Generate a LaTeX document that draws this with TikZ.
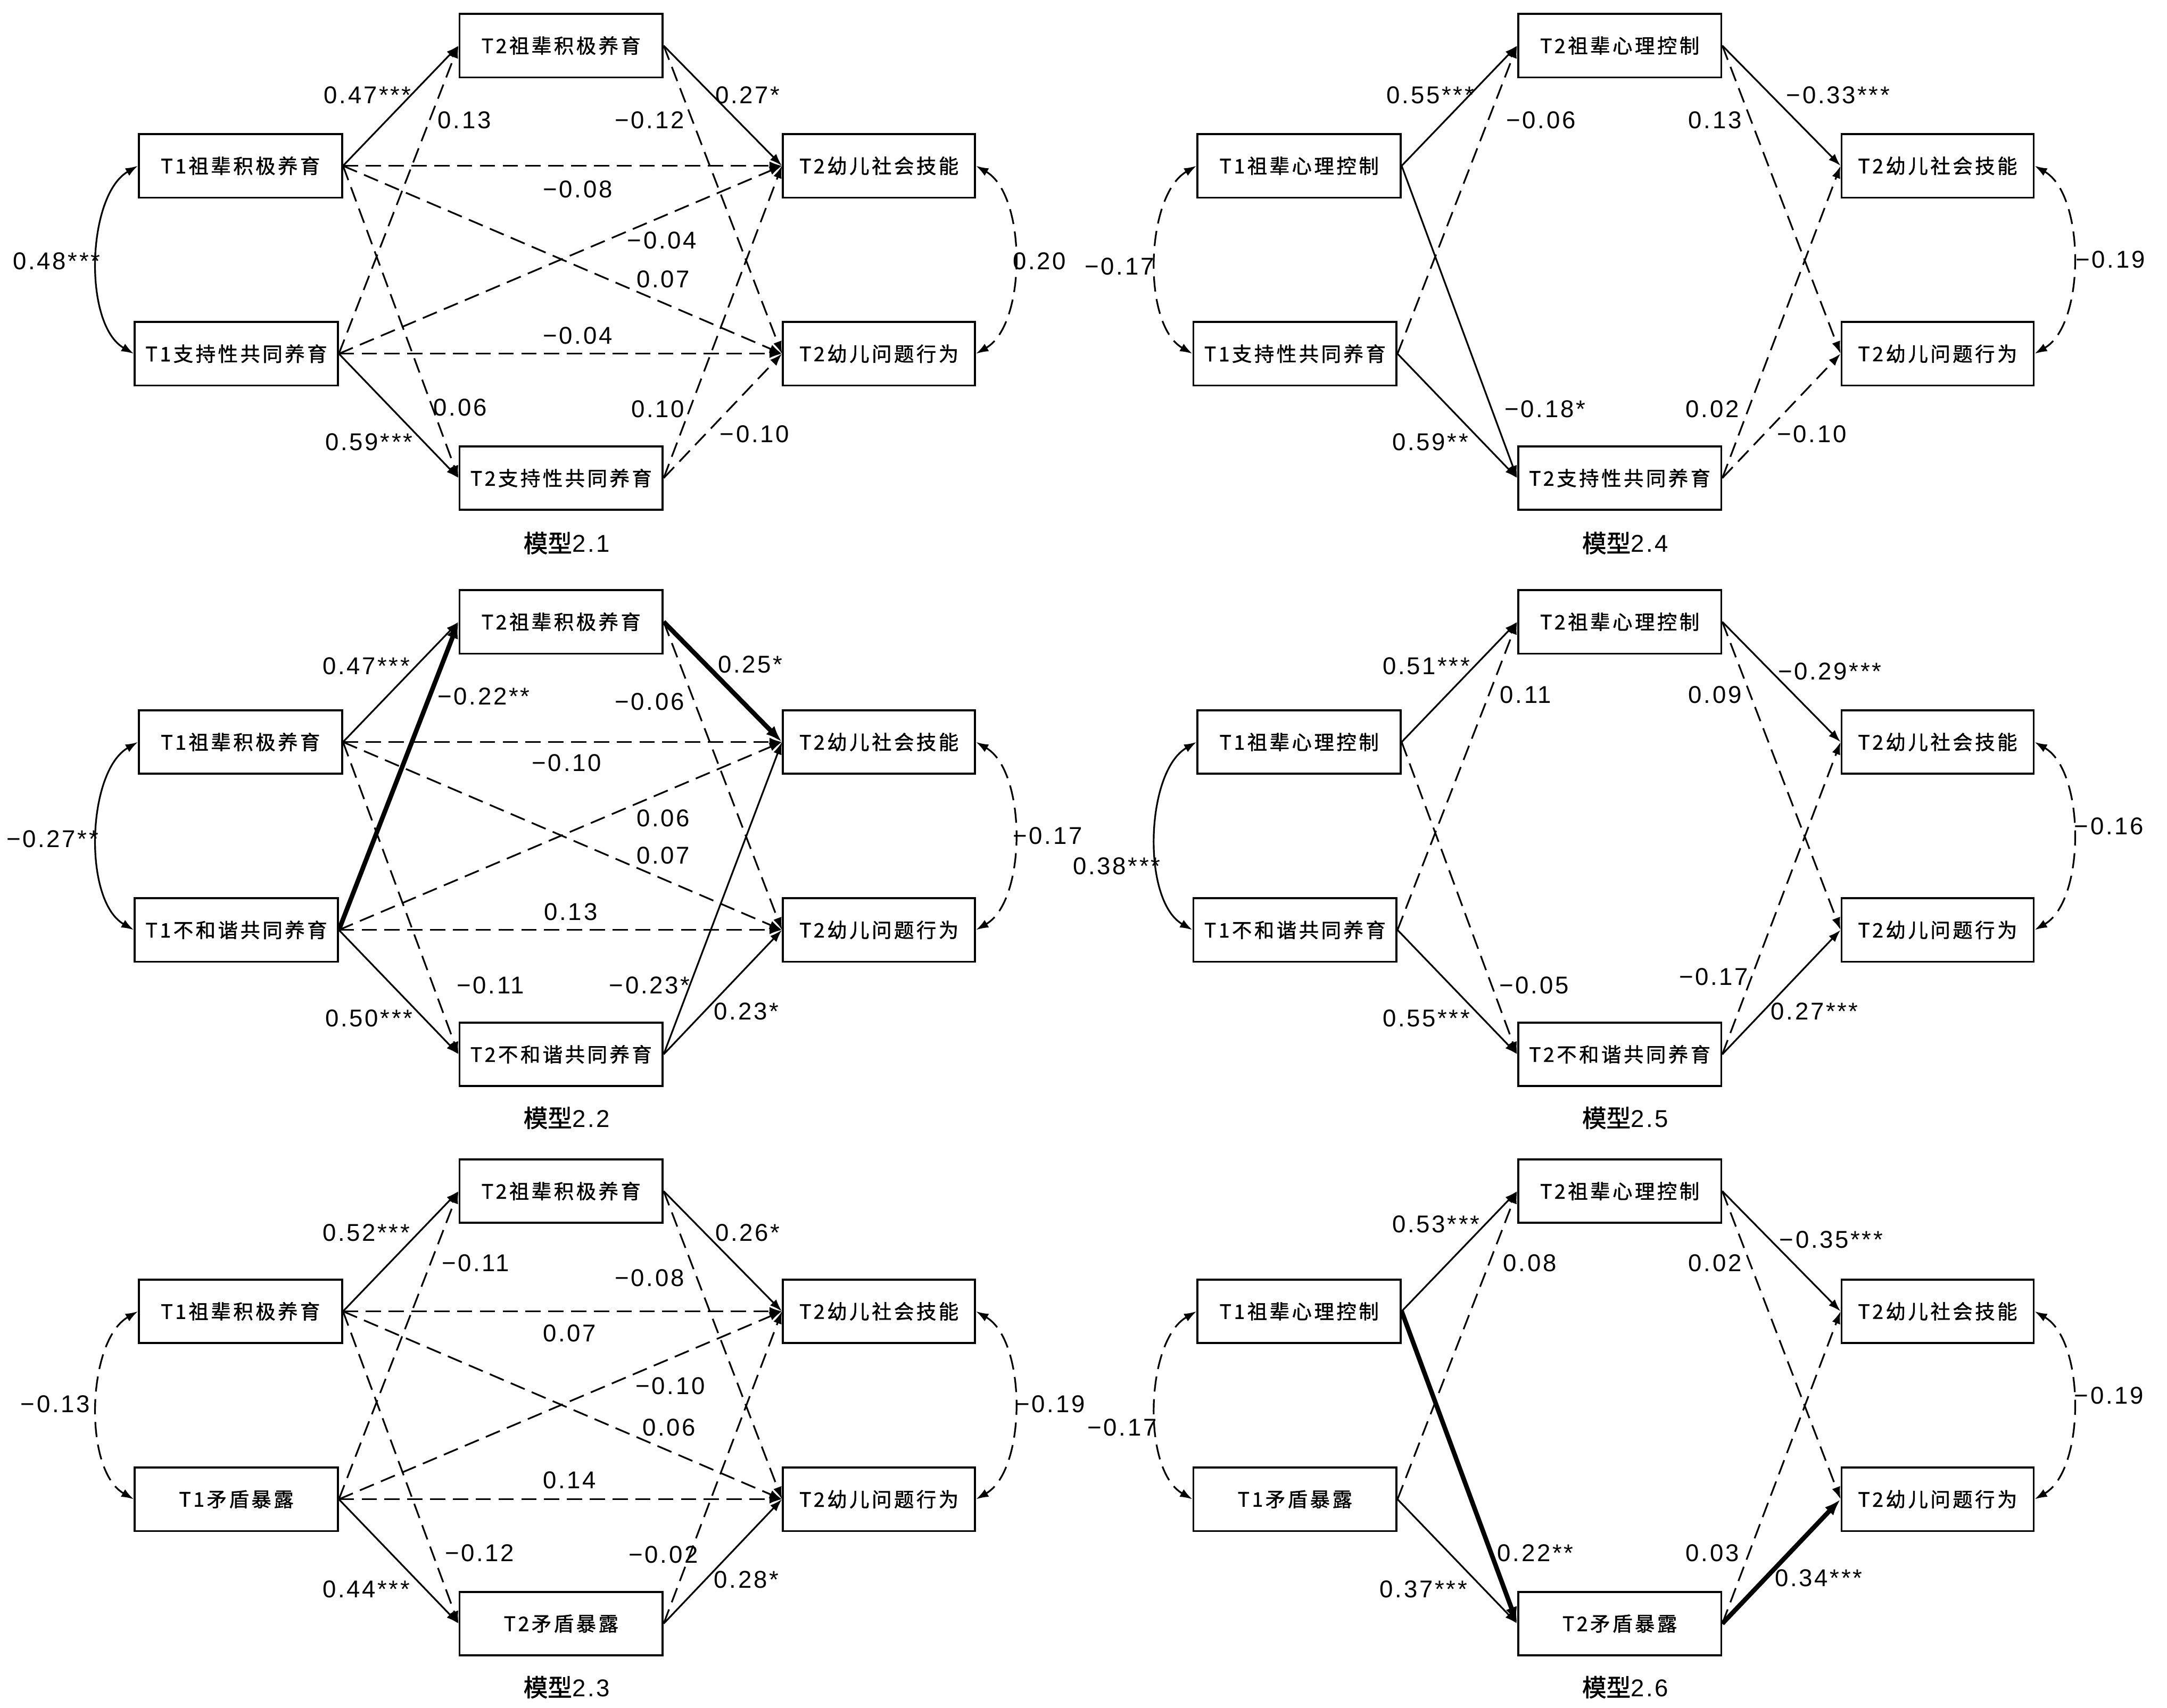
\documentclass[tikz,border=0pt]{standalone}
\usepackage{fontspec}
\setmainfont{Liberation Sans}
\newfontfamily\cjk[LetterSpace=12,FakeBold=1.2]{Noto Sans CJK SC}
\newfontfamily\capfont[FakeBold=1.5]{Noto Sans CJK SC}
\newfontfamily\numfont[LetterSpace=8]{Liberation Sans}
\usetikzlibrary{arrows.meta}

\tikzset{
  box/.style={draw,line width=0.8pt,minimum width=29.4mm,minimum height=9.2mm,inner sep=0pt,
    font=\cjk\fontsize{8.2}{9}\selectfont},
  obox/.style={box,minimum width=27.8mm},
  lab/.style={font=\numfont\fontsize{10}{12}\selectfont,inner sep=0pt},
  title/.style={font=\capfont\fontsize{10}{12}\selectfont},
  sp/.style={-{Latex[length=1.8mm,width=1.25mm]},line width=0.7pt},
  dp/.style={sp,dash pattern=on 2.2mm off 1.1mm},
  bp/.style={-{Latex[length=2.4mm,width=1.7mm]},line width=1.9pt},
  cv/.style={{Latex[length=1.8mm,width=1.25mm]}-{Latex[length=1.8mm,width=1.25mm]},line width=0.7pt},
  dcv/.style={cv,dash pattern=on 2.2mm off 1.1mm},
}

\begin{document}
\begin{tikzpicture}[x=0.2mm,y=-0.2mm]
\useasboundingbox (0,0) rectangle (1568,1236);
\fill[white] (0,0) rectangle (1568,1236);

% model 2.1
\begin{scope}
\node[box] (t1a-1) at (174,120) {T1祖辈积极养育};
\node[box] (t1b-1) at (171,256) {T1支持性共同养育};
\node[box] (t2a-1) at (406,33) {T2祖辈积极养育};
\node[box] (t2b-1) at (406,346) {T2支持性共同养育};
\node[obox] (soc-1) at (636,120) {T2幼儿社会技能};
\node[obox] (beh-1) at (636,256) {T2幼儿问题行为};
\node[title] (cap-1) at (410,393) {模型\numfont 2.1};
\draw[sp] (t1a-1.east) -- (t2a-1.west) node[lab] at (266,69) {0.47***};
\draw[dp] (t1b-1.east) -- (t2a-1.west) node[lab] at (336,87) {0.13};
\draw[sp] (t2a-1.east) -- (soc-1.west) node[lab] at (541,69) {0.27*};
\draw[dp] (t2a-1.east) -- (beh-1.west) node[lab] at (470,87) {−0.12};
\draw[dp] (t1a-1.east) -- (soc-1.west) node[lab] at (418,137) {−0.08};
\draw[dp] (t1b-1.east) -- (soc-1.west) node[lab] at (479,174) {−0.04};
\draw[dp] (t1a-1.east) -- (beh-1.west) node[lab] at (480,202) {0.07};
\draw[dp] (t1b-1.east) -- (beh-1.west) node[lab] at (418,243) {−0.04};
\draw[dp] (t1a-1.east) -- (t2b-1.west) node[lab] at (333,295) {0.06};
\draw[sp] (t1b-1.east) -- (t2b-1.west) node[lab] at (267,320) {0.59***};
\draw[dp] (t2b-1.east) -- (soc-1.west) node[lab] at (476,296) {0.10};
\draw[dp] (t2b-1.east) -- (beh-1.west) node[lab] at (546,314) {−0.10};
\draw[cv] (t1a-1.west) to[out=210,in=150,looseness=0.8] (t1b-1.west) node[lab] at (41,189) {0.48***};
\draw[dcv] (soc-1.east) to[out=-30,in=30,looseness=0.8] (beh-1.east) node[lab] at (752,189) {0.20};
\end{scope}

% model 2.2
\begin{scope}[shift={(0,417)}]
\node[box] (t1a-2) at (174,120) {T1祖辈积极养育};
\node[box] (t1b-2) at (171,256) {T1不和谐共同养育};
\node[box] (t2a-2) at (406,33) {T2祖辈积极养育};
\node[box] (t2b-2) at (406,346) {T2不和谐共同养育};
\node[obox] (soc-2) at (636,120) {T2幼儿社会技能};
\node[obox] (beh-2) at (636,256) {T2幼儿问题行为};
\node[title] (cap-2) at (410,392) {模型\numfont 2.2};
\draw[sp] (t1a-2.east) -- (t2a-2.west) node[lab] at (265,65) {0.47***};
\draw[bp] (t1b-2.east) -- (t2a-2.west) node[lab] at (350,87) {−0.22**};
\draw[bp] (t2a-2.east) -- (soc-2.west) node[lab] at (543,64) {0.25*};
\draw[dp] (t2a-2.east) -- (beh-2.west) node[lab] at (470,91) {−0.06};
\draw[dp] (t1a-2.east) -- (soc-2.west) node[lab] at (410,135) {−0.10};
\draw[dp] (t1b-2.east) -- (soc-2.west) node[lab] at (480,175) {0.06};
\draw[dp] (t1a-2.east) -- (beh-2.west) node[lab] at (480,202) {0.07};
\draw[dp] (t1b-2.east) -- (beh-2.west) node[lab] at (413,243) {0.13};
\draw[dp] (t1a-2.east) -- (t2b-2.west) node[lab] at (355,296) {−0.11};
\draw[sp] (t1b-2.east) -- (t2b-2.west) node[lab] at (267,320) {0.50***};
\draw[sp] (t2b-2.east) -- (soc-2.west) node[lab] at (470,296) {−0.23*};
\draw[sp] (t2b-2.east) -- (beh-2.west) node[lab] at (540,315) {0.23*};
\draw[cv] (t1a-2.west) to[out=210,in=150,looseness=0.8] (t1b-2.west) node[lab] at (38,190) {−0.27**};
\draw[dcv] (soc-2.east) to[out=-30,in=30,looseness=0.8] (beh-2.east) node[lab] at (758,188) {−0.17};
\end{scope}

% model 2.3
\begin{scope}[shift={(0,829)}]
\node[box] (t1a-3) at (174,120) {T1祖辈积极养育};
\node[box] (t1b-3) at (171,256) {T1矛盾暴露};
\node[box] (t2a-3) at (406,33) {T2祖辈积极养育};
\node[box] (t2b-3) at (406,346) {T2矛盾暴露};
\node[obox] (soc-3) at (636,120) {T2幼儿社会技能};
\node[obox] (beh-3) at (636,256) {T2幼儿问题行为};
\node[title] (cap-3) at (410,392) {模型\numfont 2.3};
\draw[sp] (t1a-3.east) -- (t2a-3.west) node[lab] at (265,63) {0.52***};
\draw[dp] (t1b-3.east) -- (t2a-3.west) node[lab] at (344,85) {−0.11};
\draw[sp] (t2a-3.east) -- (soc-3.west) node[lab] at (541,63) {0.26*};
\draw[dp] (t2a-3.east) -- (beh-3.west) node[lab] at (470,96) {−0.08};
\draw[dp] (t1a-3.east) -- (soc-3.west) node[lab] at (412,136) {0.07};
\draw[dp] (t1b-3.east) -- (soc-3.west) node[lab] at (485,174) {−0.10};
\draw[dp] (t1a-3.east) -- (beh-3.west) node[lab] at (484,204) {0.06};
\draw[dp] (t1b-3.east) -- (beh-3.west) node[lab] at (412,242) {0.14};
\draw[dp] (t1a-3.east) -- (t2b-3.west) node[lab] at (347,295) {−0.12};
\draw[sp] (t1b-3.east) -- (t2b-3.west) node[lab] at (265,321) {0.44***};
\draw[dp] (t2b-3.east) -- (soc-3.west) node[lab] at (480,296) {−0.02};
\draw[sp] (t2b-3.east) -- (beh-3.west) node[lab] at (540,314) {0.28*};
\draw[dcv] (t1a-3.west) to[out=210,in=150,looseness=0.8] (t1b-3.west) node[lab] at (40,187) {−0.13};
\draw[dcv] (soc-3.east) to[out=-30,in=30,looseness=0.8] (beh-3.east) node[lab] at (760,187) {−0.19};
\end{scope}

% model 2.4
\begin{scope}[shift={(766,0)}]
\node[box] (t1a-4) at (174,120) {T1祖辈心理控制};
\node[box] (t1b-4) at (171,256) {T1支持性共同养育};
\node[box] (t2a-4) at (406,33) {T2祖辈心理控制};
\node[box] (t2b-4) at (406,346) {T2支持性共同养育};
\node[obox] (soc-4) at (636,120) {T2幼儿社会技能};
\node[obox] (beh-4) at (636,256) {T2幼儿问题行为};
\node[title] (cap-4) at (410,393) {模型\numfont 2.4};
\draw[sp] (t1a-4.east) -- (t2a-4.west) node[lab] at (269,69) {0.55***};
\draw[dp] (t1b-4.east) -- (t2a-4.west) node[lab] at (349,87) {−0.06};
\draw[sp] (t1a-4.east) -- (t2b-4.west) node[lab] at (352,296) {−0.18*};
\draw[sp] (t1b-4.east) -- (t2b-4.west) node[lab] at (269,320) {0.59**};
\draw[sp] (t2a-4.east) -- (soc-4.west) node[lab] at (564,69) {−0.33***};
\draw[dp] (t2a-4.east) -- (beh-4.west) node[lab] at (475,87) {0.13};
\draw[dp] (t2b-4.east) -- (soc-4.west) node[lab] at (473,296) {0.02};
\draw[dp] (t2b-4.east) -- (beh-4.west) node[lab] at (545,314) {−0.10};
\draw[dcv] (t1a-4.west) to[out=210,in=150,looseness=0.8] (t1b-4.west) node[lab] at (44,193) {−0.17};
\draw[dcv] (soc-4.east) to[out=-30,in=30,looseness=0.8] (beh-4.east) node[lab] at (761,188) {−0.19};
\end{scope}

% model 2.5
\begin{scope}[shift={(766,417)}]
\node[box] (t1a-5) at (174,120) {T1祖辈心理控制};
\node[box] (t1b-5) at (171,256) {T1不和谐共同养育};
\node[box] (t2a-5) at (406,33) {T2祖辈心理控制};
\node[box] (t2b-5) at (406,346) {T2不和谐共同养育};
\node[obox] (soc-5) at (636,120) {T2幼儿社会技能};
\node[obox] (beh-5) at (636,256) {T2幼儿问题行为};
\node[title] (cap-5) at (410,392) {模型\numfont 2.5};
\draw[sp] (t1a-5.east) -- (t2a-5.west) node[lab] at (266,65) {0.51***};
\draw[dp] (t1b-5.east) -- (t2a-5.west) node[lab] at (338,86) {0.11};
\draw[dp] (t1a-5.east) -- (t2b-5.west) node[lab] at (344,296) {−0.05};
\draw[sp] (t1b-5.east) -- (t2b-5.west) node[lab] at (266,320) {0.55***};
\draw[sp] (t2a-5.east) -- (soc-5.west) node[lab] at (558,69) {−0.29***};
\draw[dp] (t2a-5.east) -- (beh-5.west) node[lab] at (475,86) {0.09};
\draw[dp] (t2b-5.east) -- (soc-5.west) node[lab] at (474,290) {−0.17};
\draw[sp] (t2b-5.east) -- (beh-5.west) node[lab] at (547,315) {0.27***};
\draw[cv] (t1a-5.west) to[out=210,in=150,looseness=0.8] (t1b-5.west) node[lab] at (42,210) {0.38***};
\draw[dcv] (soc-5.east) to[out=-30,in=30,looseness=0.8] (beh-5.east) node[lab] at (760,181) {−0.16};
\end{scope}

% model 2.6
\begin{scope}[shift={(766,829)}]
\node[box] (t1a-6) at (174,120) {T1祖辈心理控制};
\node[box] (t1b-6) at (171,256) {T1矛盾暴露};
\node[box] (t2a-6) at (406,33) {T2祖辈心理控制};
\node[box] (t2b-6) at (406,346) {T2矛盾暴露};
\node[obox] (soc-6) at (636,120) {T2幼儿社会技能};
\node[obox] (beh-6) at (636,256) {T2幼儿问题行为};
\node[title] (cap-6) at (410,392) {模型\numfont 2.6};
\draw[sp] (t1a-6.east) -- (t2a-6.west) node[lab] at (273,57) {0.53***};
\draw[dp] (t1b-6.east) -- (t2a-6.west) node[lab] at (341,85) {0.08};
\draw[bp] (t1a-6.east) -- (t2b-6.west) node[lab] at (345,295) {0.22**};
\draw[sp] (t1b-6.east) -- (t2b-6.west) node[lab] at (264,321) {0.37***};
\draw[sp] (t2a-6.east) -- (soc-6.west) node[lab] at (559,68) {−0.35***};
\draw[dp] (t2a-6.east) -- (beh-6.west) node[lab] at (475,85) {0.02};
\draw[dp] (t2b-6.east) -- (soc-6.west) node[lab] at (473,295) {0.03};
\draw[bp] (t2b-6.east) -- (beh-6.west) node[lab] at (550,313) {0.34***};
\draw[dcv] (t1a-6.west) to[out=210,in=150,looseness=0.8] (t1b-6.west) node[lab] at (46,204) {−0.17};
\draw[dcv] (soc-6.east) to[out=-30,in=30,looseness=0.8] (beh-6.east) node[lab] at (760,181) {−0.19};
\end{scope}
\end{tikzpicture}
\end{document}
